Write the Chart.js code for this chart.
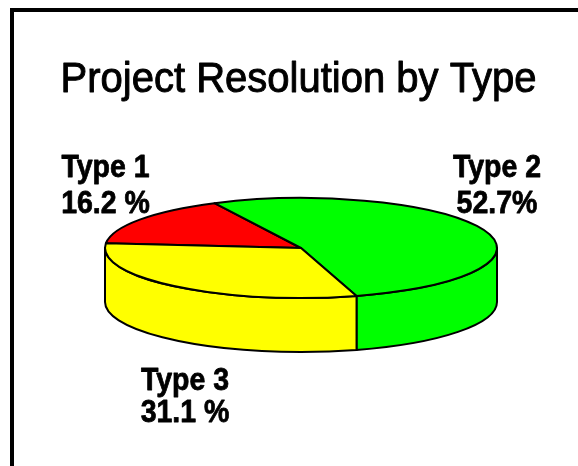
<!DOCTYPE html>
<html><head><meta charset="utf-8">
<style>html,body{margin:0;padding:0;background:#fff}#w{width:578px;height:466px}</style>
<script src="https://cdn.jsdelivr.net/npm/chart.js@4"></script></head>
<body><div id="w"><canvas id="c" width="578" height="466"></canvas></div>
<script>
const titleText = 'Project Resolution by Type';
const categories = ['Type 1', 'Type 2', 'Type 3'];
const values = [16.2, 52.7, 31.1];
const valueLabels = ['16.2 %', '52.7%', '31.1 %'];
const colors = ['#ff0000', '#00ff00', '#ffff00'];

const labelX = [105.5, 497, 185];
const labelY1 = [177, 177, 390];
const labelY2 = [213, 213, 422];
const flatten = 0.255, depth = 54;
const ink = '#000';

function tallText(ctx, text, x, y, stretch) {
  ctx.save();
  ctx.translate(x, y);
  ctx.scale(1, stretch);
  ctx.fillText(text, 0, 0);
  ctx.strokeText(text, 0, 0);
  ctx.restore();
}

const pie3d = {
  id: 'pie3d',
  beforeDraw(chart) {
    const ctx = chart.ctx;
    ctx.save();
    ctx.fillStyle = ink;
    ctx.fillRect(10, 8, 568, 4);
    ctx.fillRect(10, 8, 4, 458);
    ctx.restore();
  },
  beforeDatasetsDraw(chart) {
    const ctx = chart.ctx, arcs = chart.getDatasetMeta(0).data;
    const two = Math.PI * 2;
    ctx.save();
    ctx.lineWidth = 2;
    ctx.strokeStyle = ink;
    ctx.lineJoin = 'round';
    // walls: only the part of the rim that faces the viewer
    arcs.forEach((el, i) => {
      const r = el.outerRadius, ry = r * flatten;
      const a0 = ((el.startAngle % two) + two) % two, a1 = a0 + (el.endAngle - el.startAngle);
      [[a0, a1], [a0 - two, a1 - two]].forEach(([s, e]) => {
        const from = Math.max(s, 0), to = Math.min(e, Math.PI);
        if (to <= from) return;
        ctx.beginPath();
        ctx.ellipse(el.x, el.y, r, ry, 0, from, to);
        ctx.ellipse(el.x, el.y + depth, r, ry, 0, to, from, true);
        ctx.closePath();
        ctx.fillStyle = colors[i];
        ctx.fill();
        ctx.stroke();
      });
    });
    // top faces
    arcs.forEach((el, i) => {
      const r = el.outerRadius, ry = r * flatten;
      ctx.beginPath();
      ctx.moveTo(el.x, el.y);
      ctx.ellipse(el.x, el.y, r, ry, 0, el.startAngle, el.endAngle);
      ctx.closePath();
      ctx.fillStyle = colors[i];
      ctx.fill();
      ctx.stroke();
    });
    // text
    ctx.fillStyle = ink;
    ctx.textAlign = 'center';
    ctx.textBaseline = 'alphabetic';
    ctx.font = '40px "Liberation Sans"';
    ctx.lineWidth = 0.9;
    tallText(ctx, titleText, 298.5, 92, 1.05);
    ctx.font = 'bold 28.5px "Liberation Sans"';
    ctx.lineWidth = 0.7;
    categories.forEach((name, i) => {
      tallText(ctx, name, labelX[i], labelY1[i], 1.12);
      tallText(ctx, valueLabels[i], labelX[i], labelY2[i], 1.12);
    });
    ctx.restore();
    return false;
  }
};

new Chart(document.getElementById('c'), {
  type: 'pie',
  data: { labels: categories, datasets: [{ data: values, backgroundColor: colors, radius: 196 }] },
  options: {
    responsive: false,
    animation: false,
    rotation: -84.5,
    layout: { padding: { left: 24, right: 0, top: 52, bottom: 22 } },
    plugins: {
      legend: { display: false },
      tooltip: { enabled: false },
      title: { display: false }
    }
  },
  plugins: [pie3d]
});
</script></body></html>
